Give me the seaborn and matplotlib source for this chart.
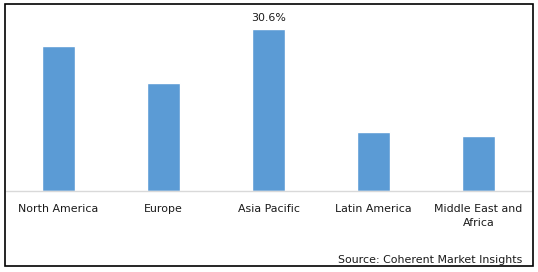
import matplotlib
matplotlib.use("Agg")
import matplotlib.pyplot as plt
import seaborn as sns
import pandas as pd
from matplotlib.patches import Rectangle

regions = ["North America", "Europe", "Asia Pacific", "Latin America", "Middle East and\nAfrica"]
shares = [27.4, 20.4, 30.6, 11.1, 10.4]
label_text = "30.6%"
source = "Source: Coherent Market Insights"

sns.set_theme(style="white")
plt.rcParams['font.family'] = ['DejaVu Sans']

W, H = 538, 272
fig = plt.figure(figsize=(W / 100, H / 100), dpi=100)
ax_left, ax_right = 6 / W, 531 / W
ax_bottom, ax_top = (H - 191) / H, (H - 8) / H
ax = fig.add_axes([ax_left, ax_bottom, ax_right - ax_left, ax_top - ax_bottom])

df = pd.DataFrame({"region": regions, "share": shares})
sns.barplot(data=df, x="region", y="share", color="#5b9bd5", width=0.314,
            saturation=1, ax=ax)
ax.set_xlim(-0.5, len(regions) - 0.5)
ax.set_ylim(0, 34.57)
ax.set_xlabel("")
ax.set_ylabel("")
ax.set_yticks([])
for s in ["top", "left", "right"]:
    ax.spines[s].set_visible(False)
ax.spines["bottom"].set_color("#d9d9d9")
ax.spines["bottom"].set_linewidth(1.0)
ax.tick_params(axis="x", length=0, pad=9.5, labelsize=7.9, colors="#1a1a1a")
for lbl in ax.get_xticklabels():
    lbl.set_linespacing(1.5)
    lbl.set_verticalalignment("top")

idx = shares.index(max(shares))
ax.annotate(label_text, (idx, shares[idx]), xytext=(0, 4), textcoords="offset points",
            ha="center", va="bottom", fontsize=7.9, color="#1a1a1a")

fig.text(522 / W, 1 - 260 / H, source, ha="right", va="center", fontsize=7.9, color="#1a1a1a")

fig.patches.append(Rectangle((5 / W, 1 - 266 / H), 528 / W, 262 / H, transform=fig.transFigure,
                             fill=False, edgecolor="black", linewidth=1.2))

fig.savefig("out.png", dpi=100)
